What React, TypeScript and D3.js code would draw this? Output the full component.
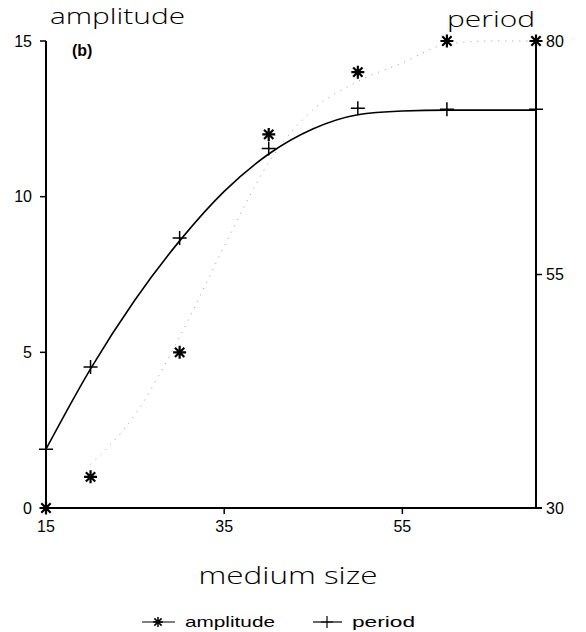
import React from "react";
import * as d3 from "d3";

// observed data
const sizes = [15, 20, 30, 40, 50, 60, 70];
const amplitude = [0, 1, 5, 12, 14, 15, 15];
const period = [36.3, 45.1, 58.9, 68.5, 72.8, 72.7, 72.7];

// fitted curves
const periodFitSizes = [15, 20, 25, 30, 35, 40, 45, 50, 55, 60, 65, 70];
const periodFit = [36.3, 44.9, 52.3, 58.6, 63.9, 67.9, 70.6, 72.1, 72.5, 72.6, 72.6, 72.6];
const ampFitSizes = [20, 25, 30, 35, 40, 45, 50, 55, 60, 65, 70];
const ampFit = [1.4, 3.0, 5.5, 8.4, 11.1, 12.8, 13.7, 14.3, 14.9, 15, 15];

const xTicks = [15, 35, 55];
const ampTicks = [0, 5, 10, 15];
const periodTicks = [30, 55, 80];

const W = 586;
const H = 632;
const L = 46;
const R = 536;
const T = 41;
const B = 508;

const FONT = "'Liberation Sans', Arial, sans-serif";
const LIGHT = "'Open Sans', 'Liberation Sans', sans-serif";

export default function App() {
  const x = d3.scaleLinear().domain([15, 70]).range([L, R]);
  const yA = d3.scaleLinear().domain([0, 15]).range([B, T]);
  const yP = d3.scaleLinear().domain([30, 80]).range([B, T]);

  const periodLine = d3
    .line<number>()
    .x((_, i) => x(periodFitSizes[i]))
    .y((d) => yP(d))
    .curve(d3.curveMonotoneX);
  const ampLine = d3
    .line<number>()
    .x((_, i) => x(ampFitSizes[i]))
    .y((d) => yA(d))
    .curve(d3.curveMonotoneX);

  const asterisk = (cx: number, cy: number, r = 6.5) => {
    const d = r * 0.72;
    return `M${cx - r},${cy}L${cx + r},${cy}M${cx},${cy - r}L${cx},${cy + r}M${cx - d},${cy - d}L${cx + d},${cy + d}M${cx - d},${cy + d}L${cx + d},${cy - d}`;
  };
  const plus = (cx: number, cy: number, r = 7) =>
    `M${cx - r},${cy}L${cx + r},${cy}M${cx},${cy - r}L${cx},${cy + r}`;

  return (
    <svg
      width={W}
      height={H}
      style={{ position: "absolute", left: 0, top: 0, background: "#fff" }}
      fontFamily={FONT}
    >
      {/* axes */}
      <line x1={L} y1={T} x2={L} y2={B} stroke="#000" strokeWidth={2} />
      <line x1={R} y1={T} x2={R} y2={B} stroke="#000" strokeWidth={2} />
      <line x1={L} y1={B} x2={R + 6} y2={B} stroke="#000" strokeWidth={2.2} />

      {ampTicks.map((t) => (
        <g key={"a" + t}>
          <line x1={L - 6} x2={L} y1={yA(t)} y2={yA(t)} stroke="#000" strokeWidth={1.5} />
          <text x={L - 14} y={yA(t)} dy="0.35em" textAnchor="end" fontSize={16}>
            {t}
          </text>
        </g>
      ))}
      {periodTicks.map((t) => (
        <g key={"p" + t}>
          <line x1={R} x2={R + 6} y1={yP(t)} y2={yP(t)} stroke="#000" strokeWidth={1.5} />
          <text x={R + 10} y={yP(t)} dy="0.35em" textAnchor="start" fontSize={16}>
            {t}
          </text>
        </g>
      ))}
      {xTicks.map((t) => (
        <g key={"x" + t}>
          <line x1={x(t)} x2={x(t)} y1={B} y2={B + 6} stroke="#000" strokeWidth={1.5} />
          <text x={x(t)} y={B + 24} textAnchor="middle" fontSize={16}>
            {t}
          </text>
        </g>
      ))}

      {/* fitted curves */}
      <path d={ampLine(ampFit) || ""} fill="none" stroke="#999" strokeWidth={1} strokeDasharray="1,6" />
      <path d={periodLine(periodFit) || ""} fill="none" stroke="#000" strokeWidth={1.6} />

      {/* markers */}
      {sizes.map((s, i) => (
        <path key={"am" + i} d={asterisk(x(s), yA(amplitude[i]))} stroke="#000" strokeWidth={2.2} fill="none" />
      ))}
      {sizes.map((s, i) => (
        <path key={"pm" + i} d={plus(x(s), yP(period[i]))} stroke="#000" strokeWidth={1.5} fill="none" />
      ))}

      {/* titles */}
      <text x={50} y={24} fontSize={22} fontFamily={LIGHT} fontWeight={300} textLength={135} lengthAdjust="spacingAndGlyphs">
        amplitude
      </text>
      <text x={447} y={27} fontSize={22} fontFamily={LIGHT} fontWeight={300} textLength={88} lengthAdjust="spacingAndGlyphs">
        period
      </text>
      <text x={72} y={56} fontSize={16} fontWeight="bold">
        (b)
      </text>
      <text x={288} y={584} fontSize={24} fontFamily={LIGHT} fontWeight={300} textAnchor="middle" textLength={179} lengthAdjust="spacingAndGlyphs">
        medium size
      </text>

      {/* legend */}
      <line x1={142} x2={175} y1={622} y2={622} stroke="#000" strokeWidth={1.2} />
      <path d={asterisk(158, 622, 5)} stroke="#000" strokeWidth={1.5} fill="none" />
      <text x={185} y={622} dy="0.35em" fontSize={15} textLength={90} lengthAdjust="spacingAndGlyphs">
        amplitude
      </text>
      <line x1={313} x2={342} y1={622} y2={622} stroke="#000" strokeWidth={1.2} />
      <path d={plus(327, 622, 6)} stroke="#000" strokeWidth={1.2} fill="none" />
      <text x={352} y={622} dy="0.35em" fontSize={15} textLength={63} lengthAdjust="spacingAndGlyphs">
        period
      </text>
    </svg>
  );
}
